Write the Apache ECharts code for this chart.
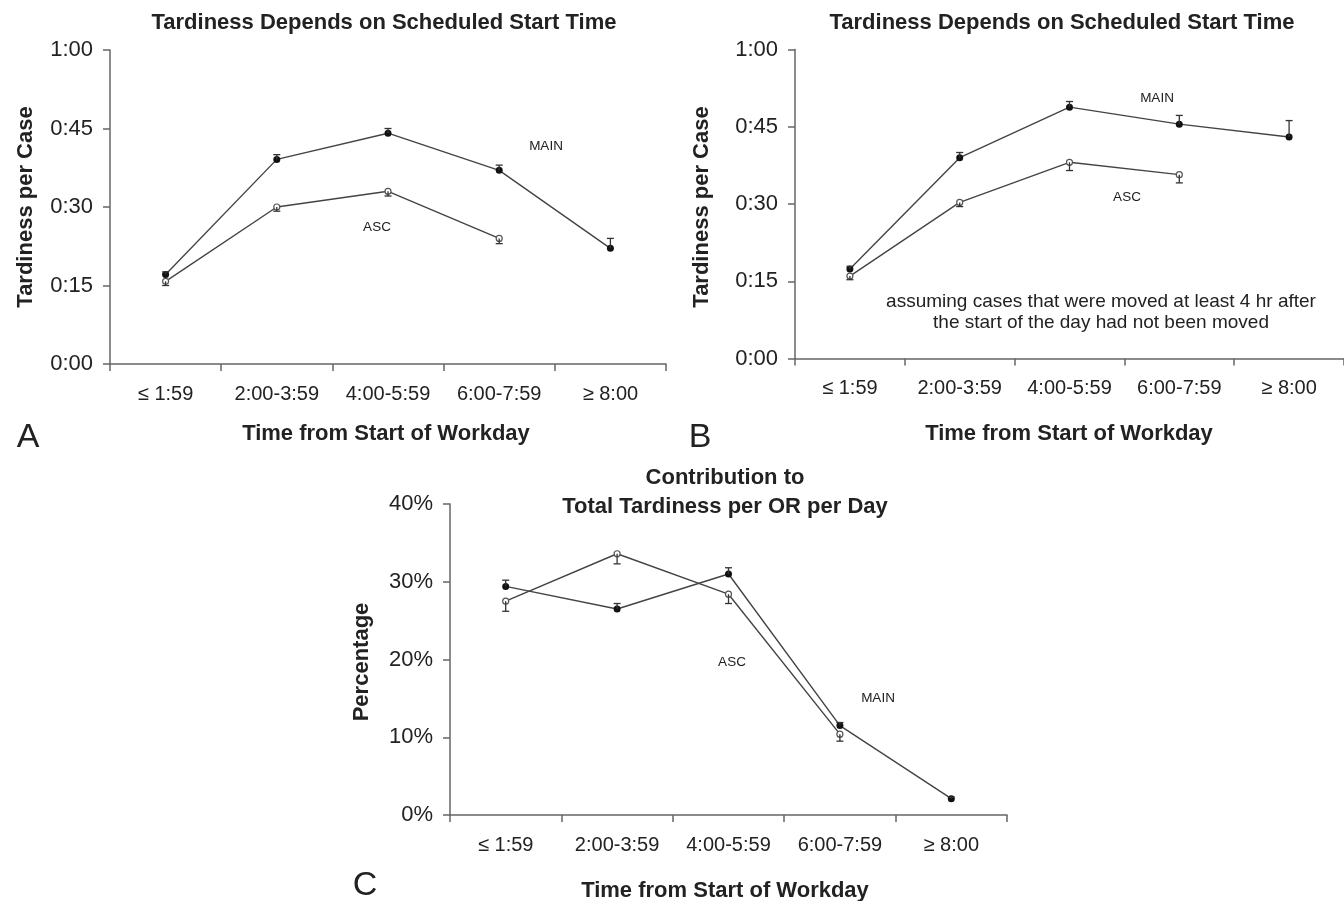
<!DOCTYPE html>
<html>
<head>
<meta charset="utf-8">
<script src="https://cdn.jsdelivr.net/npm/echarts@6/dist/echarts.min.js"></script>
<style>
html,body{margin:0;padding:0;background:#fff;}
#chart{width:1344px;height:901px;}
</style>
</head>
<body>
<div id="chart"></div>
<script>
// ---- data ----
var categories = ['≤ 1:59', '2:00-3:59', '4:00-5:59', '6:00-7:59', '≥ 8:00'];
var yTicksTime = [0, 15, 30, 45, 60];       // minutes -> 0:00 ... 1:00
var yTicksPct = [0, 10, 20, 30, 40];        // percent

// Panel A (minutes)
var mainA = [17.1, 39.1, 44.1, 37.0, 22.1];
var mainAErr = [17.6, 40.0, 45.0, 38.0, 24.0];
var ascA = [15.8, 30.0, 33.0, 24.0];
var ascAErr = [15.0, 29.2, 32.1, 23.0];

// Panel B (minutes)
var mainB = [17.4, 39.0, 48.8, 45.5, 43.0];
var mainBErr = [17.9, 40.0, 49.9, 47.2, 46.2];
var ascB = [16.0, 30.3, 38.1, 35.7];
var ascBErr = [15.3, 29.5, 36.5, 34.1];

// Panel C (percent)
var mainC = [29.4, 26.5, 31.0, 11.5, 2.1];
var mainCErr = [30.2, 27.2, 31.8, 11.9, 2.3];
var ascC = [27.5, 33.6, 28.4, 10.4];
var ascCErr = [26.2, 32.3, 27.2, 9.5];

// ---- chart ----
var FONT = '"Liberation Sans", Arial, Helvetica, sans-serif';
var TXT = '#222';
var AX = '#666';
var LINE = '#444';

function timeFmt(v) {
  var h = Math.floor(v / 60), m = Math.round(v % 60);
  return h + ':' + (m < 10 ? '0' : '') + m;
}
function pctFmt(v) { return v + '%'; }

function xAxis(gi) {
  return {
    type: 'category', gridIndex: gi, data: categories, boundaryGap: true,
    axisLine: { lineStyle: { color: AX, width: 1.5 } },
    axisTick: { show: true, length: 7, lineStyle: { color: AX, width: 1.5 } },
    axisLabel: { color: TXT, fontSize: 20, fontFamily: FONT, margin: 20, interval: 0 },
    splitLine: { show: false }
  };
}
function yAxis(gi, ticks, fmt) {
  return {
    type: 'value', gridIndex: gi, min: ticks[0], max: ticks[ticks.length - 1],
    interval: ticks[1] - ticks[0],
    axisLine: { show: true, lineStyle: { color: AX, width: 1.5 } },
    axisTick: { show: true, length: 7, lineStyle: { color: AX, width: 1.5 } },
    axisLabel: { color: TXT, fontSize: 22, fontFamily: FONT, margin: 17, formatter: fmt },
    splitLine: { show: false }
  };
}

function pairs(vals) { return vals.map(function (v, i) { return [i, v]; }); }
function errData(vals, ends) { return vals.map(function (v, i) { return [i, v, ends[i]]; }); }

function errSeries(gi, vals, ends) {
  return {
    type: 'custom', xAxisIndex: gi, yAxisIndex: gi, z: 5, silent: true,
    data: errData(vals, ends),
    renderItem: function (params, api) {
      var p0 = api.coord([api.value(0), api.value(1)]);
      var p1 = api.coord([api.value(0), api.value(2)]);
      var st = { stroke: '#333', lineWidth: 1.3 };
      return {
        type: 'group', children: [
          { type: 'line', shape: { x1: p0[0], y1: p0[1], x2: p1[0], y2: p1[1] }, style: st },
          { type: 'line', shape: { x1: p1[0] - 3.5, y1: p1[1], x2: p1[0] + 3.5, y2: p1[1] }, style: st }
        ]
      };
    }
  };
}
function mainSeries(gi, vals) {
  return {
    type: 'line', xAxisIndex: gi, yAxisIndex: gi, z: 4, data: pairs(vals),
    symbol: 'circle', symbolSize: 7, showAllSymbol: true,
    itemStyle: { color: '#111', borderColor: '#111', borderWidth: 0 },
    lineStyle: { color: LINE, width: 1.4 }, silent: true
  };
}
function ascSeries(gi, vals) {
  return {
    type: 'line', xAxisIndex: gi, yAxisIndex: gi, z: 3, data: pairs(vals),
    symbol: 'circle', symbolSize: 6, showAllSymbol: true,
    itemStyle: { color: '#ffffff', borderColor: '#555555', borderWidth: 1.2 },
    lineStyle: { color: LINE, width: 1.4 }, silent: true
  };
}

function txt(t, x, y, size, weight, rot) {
  return {
    type: 'text', x: x, y: y, rotation: rot || 0, z: 10,
    style: {
      text: t, fill: TXT, font: (weight || 'normal') + ' ' + size + 'px ' + FONT,
      align: 'center', verticalAlign: 'middle'
    }
  };
}
var R = Math.PI / 2;

var option = {
  backgroundColor: '#fff',
  animation: false,
  grid: [
    { left: 110, top: 50, width: 556, height: 314 },
    { left: 795, top: 49.5, width: 550, height: 309 },
    { left: 450, top: 504, width: 557, height: 311 }
  ],
  xAxis: [xAxis(0), xAxis(1), xAxis(2)],
  yAxis: [yAxis(0, yTicksTime, timeFmt), yAxis(1, yTicksTime, timeFmt), yAxis(2, yTicksPct, pctFmt)],
  series: [
    errSeries(0, mainA, mainAErr), errSeries(0, ascA, ascAErr),
    mainSeries(0, mainA), ascSeries(0, ascA),
    errSeries(1, mainB, mainBErr), errSeries(1, ascB, ascBErr),
    mainSeries(1, mainB), ascSeries(1, ascB),
    errSeries(2, mainC, mainCErr), errSeries(2, ascC, ascCErr),
    mainSeries(2, mainC), ascSeries(2, ascC)
  ],
  graphic: [
    // titles
    txt('Tardiness Depends on Scheduled Start Time', 384, 23, 22, 'bold'),
    txt('Tardiness Depends on Scheduled Start Time', 1062, 23, 22, 'bold'),
    txt('Contribution to', 725, 478, 22, 'bold'),
    txt('Total Tardiness per OR per Day', 725, 507, 22, 'bold'),
    // axis titles
    txt('Time from Start of Workday', 386, 434, 22, 'bold'),
    txt('Time from Start of Workday', 1069, 434, 22, 'bold'),
    txt('Time from Start of Workday', 725, 891, 22, 'bold'),
    txt('Tardiness per Case', 26, 207, 22, 'bold', R),
    txt('Tardiness per Case', 702, 207, 22, 'bold', R),
    txt('Percentage', 362, 662, 22, 'bold', R),
    // panel letters
    txt('A', 28, 438, 34, 'normal'),
    txt('B', 700, 438, 34, 'normal'),
    txt('C', 365, 886, 34, 'normal'),
    // series labels
    txt('MAIN', 546, 146, 13.5, 'normal'),
    txt('ASC', 377, 227, 13.5, 'normal'),
    txt('MAIN', 1157, 98, 13.5, 'normal'),
    txt('ASC', 1127, 197, 13.5, 'normal'),
    txt('ASC', 732, 662, 13.5, 'normal'),
    txt('MAIN', 878, 698, 13.5, 'normal'),
    // annotation
    txt('assuming cases that were moved at least 4 hr after', 1101, 302, 19, 'normal'),
    txt('the start of the day had not been moved', 1101, 323, 19, 'normal')
  ]
};

var chart = echarts.init(document.getElementById('chart'), null, { renderer: 'canvas' });
chart.setOption(option);
</script>
</body>
</html>
